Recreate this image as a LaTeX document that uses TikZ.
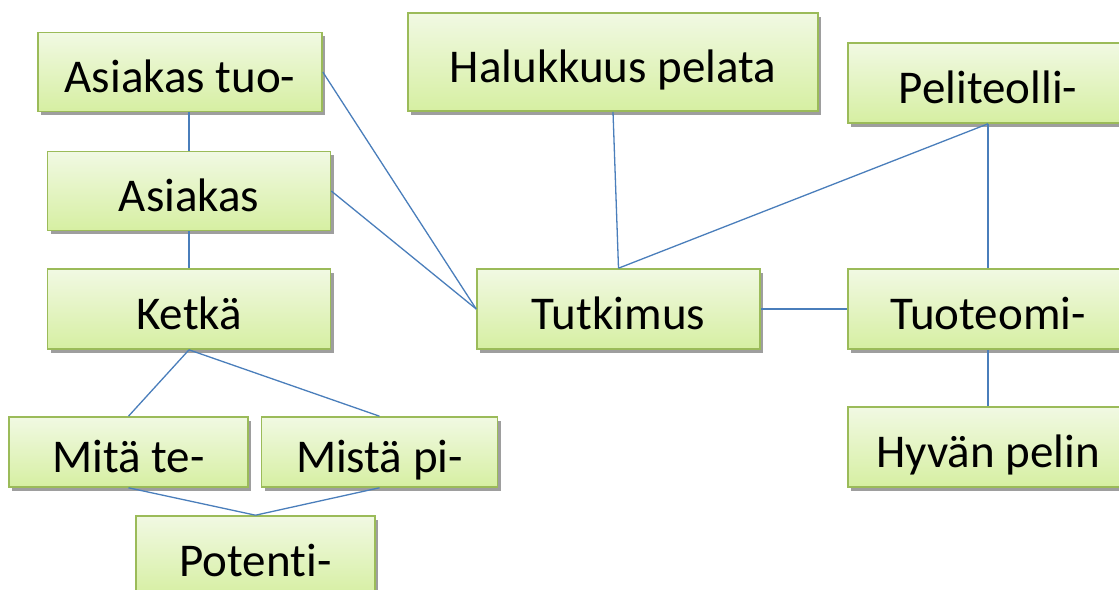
\documentclass[tikz,border=0pt]{standalone}
\usepackage{fontspec}
\setmainfont{Carlito}[Ligatures=NoCommon]
\usetikzlibrary{shadows}
\definecolor{boxline}{HTML}{9BBB59}
\definecolor{boxtop}{HTML}{F1F9E3}
\definecolor{boxbot}{HTML}{D6EFA2}
\definecolor{linkcol}{HTML}{4A7EBB}
\tikzset{every node/.style={font=\fontsize{47}{50}\selectfont},
box/.style={draw=boxline,line width=1.6pt,top color=boxtop,bottom color=boxbot,inner sep=0pt,text height=40pt,text depth=0pt,
 drop shadow={shadow xshift=3pt,shadow yshift=-3.5pt,fill=black!38,opacity=1}},
link/.style={draw=linkcol,line width=1.3pt}}
\begin{document}
\begin{tikzpicture}[x=1pt,y=-1pt]
\useasboundingbox (0,0) rectangle (1119,589);\clip (0,0) rectangle (1119,589);
% boxes
\foreach \n/\x/\y/\w/\h/\t in {tuo/180/72/284/79/Asiakas tuo-,asiakas/189/191/283/79/Asiakas,ketka/189/309/283/80/Ketkä,
 mita/128.5/452/239/70/Mitä te-,mista/379.5/452/236/70/Mistä pi-,potenti/255.5/556/239/80/Potenti-,
 halu/613/62/410/98/Halukkuus pelata,peli/988/83/280/80/Peliteolli-,tutkimus/618.5/309/283/80/Tutkimus,
 tuote/988/309/280/80/Tuoteomi-,hyva/988/447/280/80/Hyvän pelin}
 {\node[box,minimum width=\w pt,minimum height=\h pt] (\n) at (\x,\y) {\t};}
% links
\draw[link] (asiakas.north)--(asiakas.north|-tuo.south);
\foreach \a/\b in {asiakas.south/ketka.north,ketka.south/mita.north,ketka.south/mista.north,mita.south/potenti.north,
 mista.south/potenti.north,tuo.east/tutkimus.west,asiakas.east/tutkimus.west,halu.south/tutkimus.north,
 peli.south/tutkimus.north,peli.south/tuote.north,tutkimus.east/tuote.west,tuote.south/hyva.north}
 {\draw[link] (\a)--(\b);}
\end{tikzpicture}
\end{document}
